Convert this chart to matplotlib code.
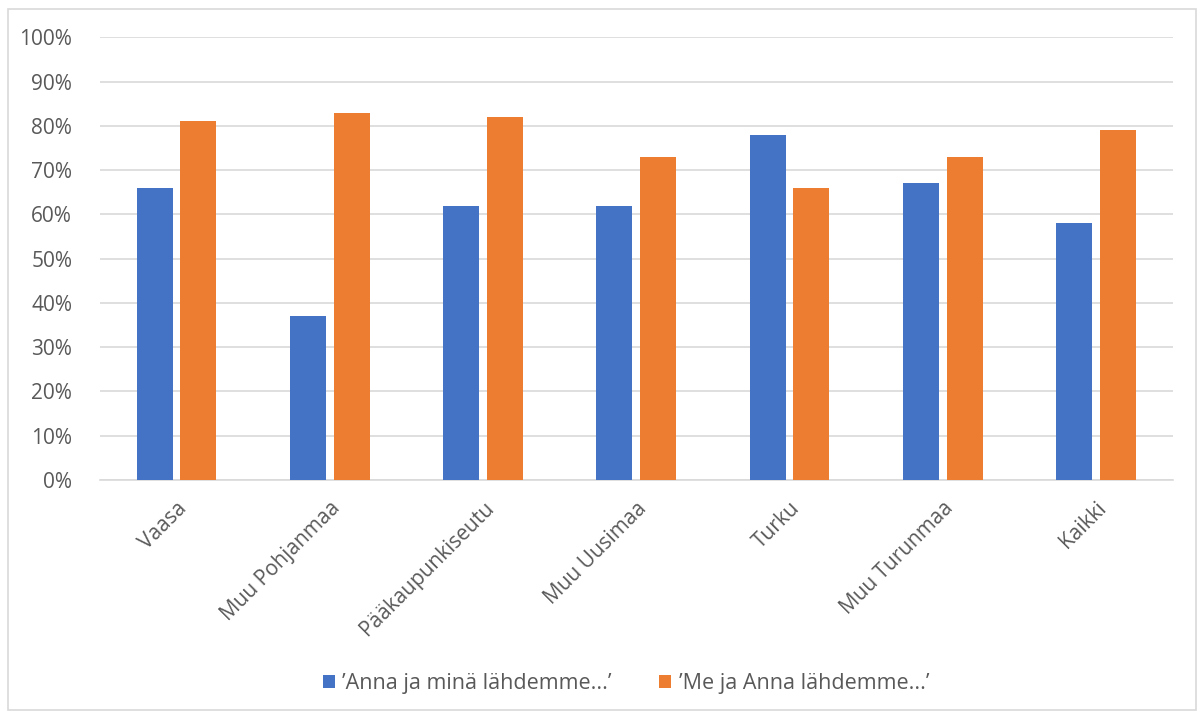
import numpy as np
import matplotlib.pyplot as plt
from matplotlib.ticker import PercentFormatter
from matplotlib.patches import Rectangle

categories = ["Vaasa", "Muu Pohjanmaa", "Pääkaupunkiseutu", "Muu Uusimaa",
              "Turku", "Muu Turunmaa", "Kaikki"]
anna_ja_mina = [66, 37, 62, 62, 78, 67, 58]
me_ja_anna = [81, 83, 82, 73, 66, 73, 79]
series_names = ["\u2019Anna ja minä lähdemme...\u2019", "\u2019Me ja Anna lähdemme...\u2019"]

plt.rcParams['font.family'] = ['Open Sans', 'DejaVu Sans']
text_color = '#595959'

fig = plt.figure(figsize=(12.04, 7.17), dpi=100)
ax = fig.add_axes([0.083, 0.3305, 0.891, 0.6175])

x = np.arange(len(categories))
w = 0.235
gap = 0.05
ax.bar(x - (w + gap) / 2, np.array(anna_ja_mina) / 100, w, color='#4472C4',
       label=series_names[0], zorder=3)
ax.bar(x + (w + gap) / 2, np.array(me_ja_anna) / 100, w, color='#ED7D31',
       label=series_names[1], zorder=3)

ax.set_xlim(-0.5, len(categories) - 0.5)
ax.set_ylim(0, 1)
ax.set_yticks(np.arange(0, 1.01, 0.1))
ax.yaxis.set_major_formatter(PercentFormatter(1.0, decimals=0))
ax.grid(axis='y', color='#D9D9D9', linewidth=1.2, zorder=0)
for s in ['top', 'right', 'left']:
    ax.spines[s].set_visible(False)
ax.spines['bottom'].set_color('#D9D9D9')
ax.spines['bottom'].set_linewidth(1.2)
ax.tick_params(axis='both', length=0, colors=text_color, labelsize=15)
ax.tick_params(axis='y', pad=20)
ax.tick_params(axis='x', pad=13)
ax.set_xticks(x)
ax.set_xticklabels(categories, rotation=45, ha='right', rotation_mode='anchor')

fig.legend(loc='center', bbox_to_anchor=(0.52, 0.047), ncol=2, frameon=False,
           fontsize=15.5, labelcolor=text_color, handlelength=0.55, handleheight=0.55,
           columnspacing=2.2, handletextpad=0.35)

# light frame around the whole chart
fig.add_artist(Rectangle((0.007, 0.01), 0.986, 0.978, transform=fig.transFigure,
                         fill=False, edgecolor='#D9D9D9', linewidth=1.2))

fig.savefig('out.png', dpi=100)
